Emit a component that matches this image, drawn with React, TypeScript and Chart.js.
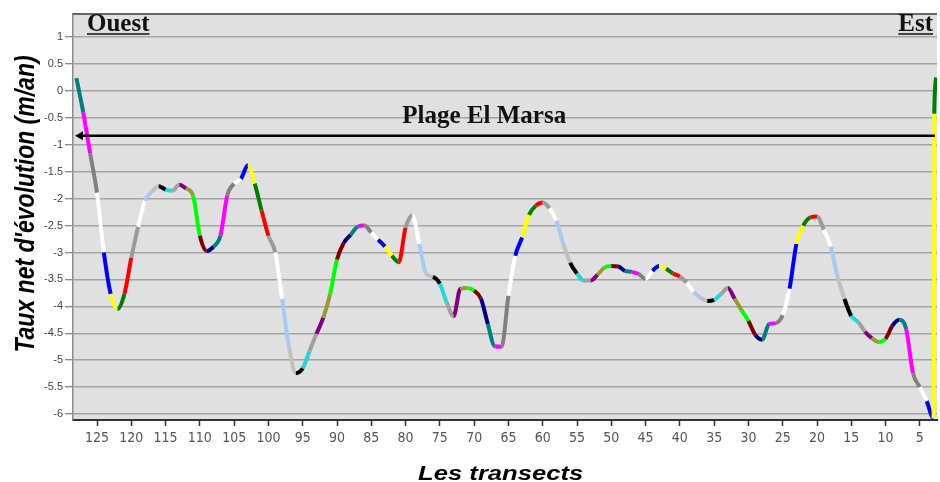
import { useEffect, useRef } from 'react';
import { Chart, registerables } from 'chart.js';

Chart.register(...registerables);

// Transect numbers (west -> east)
const transects = [
  128, 127, 126, 125, 124, 123, 122, 121, 120, 119, 118, 117, 116, 115, 114, 113, 112, 111, 110, 109,
  108, 107, 106, 105, 104, 103, 102, 101, 100, 99, 98, 97, 96, 95, 94, 93, 92, 91, 90, 89,
  88, 87, 86, 85, 84, 83, 82, 81, 80, 79, 78, 77, 76, 75, 74, 73, 72, 71, 70, 69,
  68, 67, 66, 65, 64, 63, 62, 61, 60, 59, 58, 57, 56, 55, 54, 53, 52, 51, 50, 49,
  48, 47, 46, 45, 44, 43, 42, 41, 40, 39, 38, 37, 36, 35, 34, 33, 32, 31, 30, 29,
  28, 27, 26, 25, 24, 23, 22, 21, 20, 19, 18, 17, 16, 15, 14, 13, 12, 11, 10, 9,
  8, 7, 6, 5, 4, 3, 2.9, 2.6,
];

// Net shoreline change rate (m/an)
const rates = [
  0.24, -0.4, -1.16, -1.89, -3.0, -3.77, -4.05, -3.77, -3.1, -2.52, -2.04, -1.87, -1.77, -1.83, -1.85, -1.74, -1.81, -1.94, -2.69, -2.97,
  -2.89, -2.69, -1.94, -1.72, -1.63, -1.38, -1.72, -2.22, -2.69, -3.0, -3.86, -4.75, -5.24, -5.15, -4.83, -4.51, -4.21, -3.77, -3.13, -2.82,
  -2.67, -2.52, -2.5, -2.63, -2.76, -2.89, -3.06, -3.18, -2.54, -2.31, -2.84, -3.39, -3.45, -3.58, -3.93, -4.18, -3.67, -3.66, -3.71, -3.86,
  -4.33, -4.74, -4.75, -3.8, -3.06, -2.72, -2.3, -2.13, -2.07, -2.18, -2.41, -2.84, -3.19, -3.39, -3.52, -3.52, -3.41, -3.28, -3.25, -3.26,
  -3.34, -3.36, -3.4, -3.49, -3.34, -3.25, -3.3, -3.39, -3.45, -3.56, -3.73, -3.84, -3.9, -3.88, -3.77, -3.66, -3.86, -4.07, -4.27, -4.53,
  -4.62, -4.33, -4.31, -4.16, -3.67, -2.84, -2.5, -2.35, -2.33, -2.58, -2.89, -3.45, -3.86, -4.18, -4.29, -4.47, -4.59, -4.66, -4.6, -4.36,
  -4.25, -4.42, -5.24, -5.5, -5.76, -6.08, -0.42, 0.25,
];

const xTickValues = [125, 120, 115, 110, 105, 100, 95, 90, 85, 80, 75, 70, 65, 60, 55, 50, 45, 40, 35, 30, 25, 20, 15, 10, 5];
const yTickValues = [1, 0.5, 0, -0.5, -1, -1.5, -2, -2.5, -3, -3.5, -4, -4.5, -5, -5.5, -6];

const referenceLevel = -0.83;
const referenceLabel = 'Plage El Marsa';
const westLabel = 'Ouest';
const eastLabel = 'Est';
const xTitle = 'Les transects';
const yTitle = "Taux net d'évolution (m/an)";

// colour cycle of the segments (indexed by transect mod 20)
const palette = [
  '#9a9a9a', '#ff0000', '#008000', '#ffff00', '#0000ff', '#ffffff', '#808080', '#ff00ff', '#008080', '#000080',
  '#800000', '#00ff00', '#999933', '#800080', '#a0a0a0', '#20d8d8', '#000000', '#c0c0c0', '#a6caf0', '#ffffff',
];

const SERIF = "'Liberation Serif', 'Times New Roman', serif";
const SANS = "'Liberation Sans', Arial, sans-serif";

const decorPlugin = {
  id: 'decor',
  beforeDraw(chart: any) {
    const { ctx, chartArea } = chart;
    const { left, top, right, bottom } = chartArea;
    ctx.save();
    ctx.fillStyle = '#e0e0e0';
    ctx.fillRect(left, top, right - left, bottom - top);
    ctx.restore();
  },
  afterDatasetsDraw(chart: any) {
    const { ctx, chartArea, scales } = chart;
    const { left, top, right } = chartArea;
    ctx.save();
    // top border
    ctx.strokeStyle = '#666';
    ctx.lineWidth = 2;
    ctx.beginPath();
    ctx.moveTo(left, top);
    ctx.lineTo(right, top);
    ctx.stroke();
    // reference line with arrow
    const y = scales.y.getPixelForValue(referenceLevel);
    ctx.strokeStyle = '#000';
    ctx.fillStyle = '#000';
    ctx.lineWidth = 2.5;
    ctx.beginPath();
    ctx.moveTo(left + 8, y);
    ctx.lineTo(right - 2, y);
    ctx.stroke();
    ctx.beginPath();
    ctx.moveTo(left + 2, y);
    ctx.lineTo(left + 10, y - 4.5);
    ctx.lineTo(left + 10, y + 4.5);
    ctx.closePath();
    ctx.fill();
    ctx.restore();
  },
  afterDraw(chart: any) {
    const { ctx, chartArea, scales } = chart;
    const { left, right, top, bottom } = chartArea;
    const y = scales.y.getPixelForValue(referenceLevel);
    ctx.save();
    ctx.fillStyle = '#111';
    ctx.textBaseline = 'alphabetic';
    ctx.font = `bold 25px ${SERIF}`;
    ctx.textAlign = 'center';
    ctx.fillText(referenceLabel, left + (right - left) * 0.476, y - 13);

    // Ouest / Est underlined
    ctx.textAlign = 'left';
    const wx = left + 14;
    const by = top + 17;
    ctx.fillText(westLabel, wx, by);
    const ww = ctx.measureText(westLabel).width;
    ctx.textAlign = 'right';
    const ex = right - 4;
    ctx.fillText(eastLabel, ex, by);
    const ew = ctx.measureText(eastLabel).width;
    ctx.strokeStyle = '#111';
    ctx.lineWidth = 1.5;
    ctx.beginPath();
    ctx.moveTo(wx, by + 3);
    ctx.lineTo(wx + ww, by + 3);
    ctx.moveTo(ex - ew, by + 3);
    ctx.lineTo(ex, by + 3);
    ctx.stroke();

    // axis titles
    ctx.fillStyle = '#000';
    ctx.font = `italic bold 21px ${SANS}`;
    ctx.textAlign = 'center';
    ctx.save();
    ctx.translate(left + (right - left) * 0.495, bottom + 60);
    ctx.scale(1.22, 1);
    ctx.fillText(xTitle, 0, 0);
    ctx.restore();

    ctx.save();
    ctx.font = `italic bold 23px ${SANS}`;
    ctx.translate(34, (top + bottom) / 2 - 13);
    ctx.rotate(-Math.PI / 2);
    ctx.scale(1, 1.2);
    ctx.fillText(yTitle, 0, 0);
    ctx.restore();
    ctx.restore();
  },
};

export default function App() {
  const canvasRef = useRef<HTMLCanvasElement>(null);

  useEffect(() => {
    const canvas = canvasRef.current;
    if (!canvas) return;
    const chart = new Chart(canvas, {
      type: 'line',
      data: {
        datasets: [
          {
            data: transects.map((t, i) => ({ x: t, y: rates[i] })),
            borderWidth: 4,
            borderColor: palette[8],
            pointRadius: 0,
            fill: false,
            cubicInterpolationMode: 'monotone',
            segment: {
              borderColor: (c: any) => palette[Math.floor(transects[c.p0DataIndex]) % 20],
            },
          } as any,
        ],
      },
      options: {
        responsive: false,
        animation: false,
        devicePixelRatio: 1,
        layout: { padding: { top: 14, right: 3, left: 0, bottom: 0 } },
        plugins: { legend: { display: false }, tooltip: { enabled: false }, title: { display: false } },
        scales: {
          x: {
            type: 'linear',
            reverse: true,
            min: 2.5,
            max: 128.5,
            afterBuildTicks: (s: any) => {
              s.ticks = xTickValues.map((v) => ({ value: v }));
            },
            afterFit: (s: any) => {
              s.height = 62;
            },
            grid: { drawOnChartArea: false, drawTicks: true, tickLength: 6, tickColor: '#333', tickWidth: 1.5 },
            border: { color: '#333', width: 2 },
            ticks: {
              color: '#555',
              padding: 4,
              maxRotation: 0,
              autoSkip: false,
              font: { family: "'Liberation Sans Narrow', 'DejaVu Sans Condensed', 'Liberation Sans', Arial", size: 14 },
              callback: (v: any) => String(v),
            },
          },
          y: {
            type: 'linear',
            min: -6.11,
            max: 1.43,
            afterBuildTicks: (s: any) => {
              s.ticks = yTickValues.map((v) => ({ value: v }));
            },
            afterFit: (s: any) => {
              s.width = 73;
            },
            grid: { color: '#a4a4a4', lineWidth: 1.5, drawTicks: true, tickLength: 8, tickColor: '#666', tickWidth: 1 },
            border: { color: '#8a8a8a', width: 1.5 },
            ticks: {
              color: '#444',
              padding: 2,
              font: { family: SANS, size: 11 },
              callback: (v: any) => String(v),
            },
          },
        },
      },
      plugins: [decorPlugin],
    });
    return () => chart.destroy();
  }, []);

  return (
    <div style={{ position: 'fixed', left: 0, top: 0, width: 940, height: 482, background: '#fff' }}>
      <canvas ref={canvasRef} width={940} height={482} style={{ display: 'block', width: 940, height: 482 }} />
    </div>
  );
}
